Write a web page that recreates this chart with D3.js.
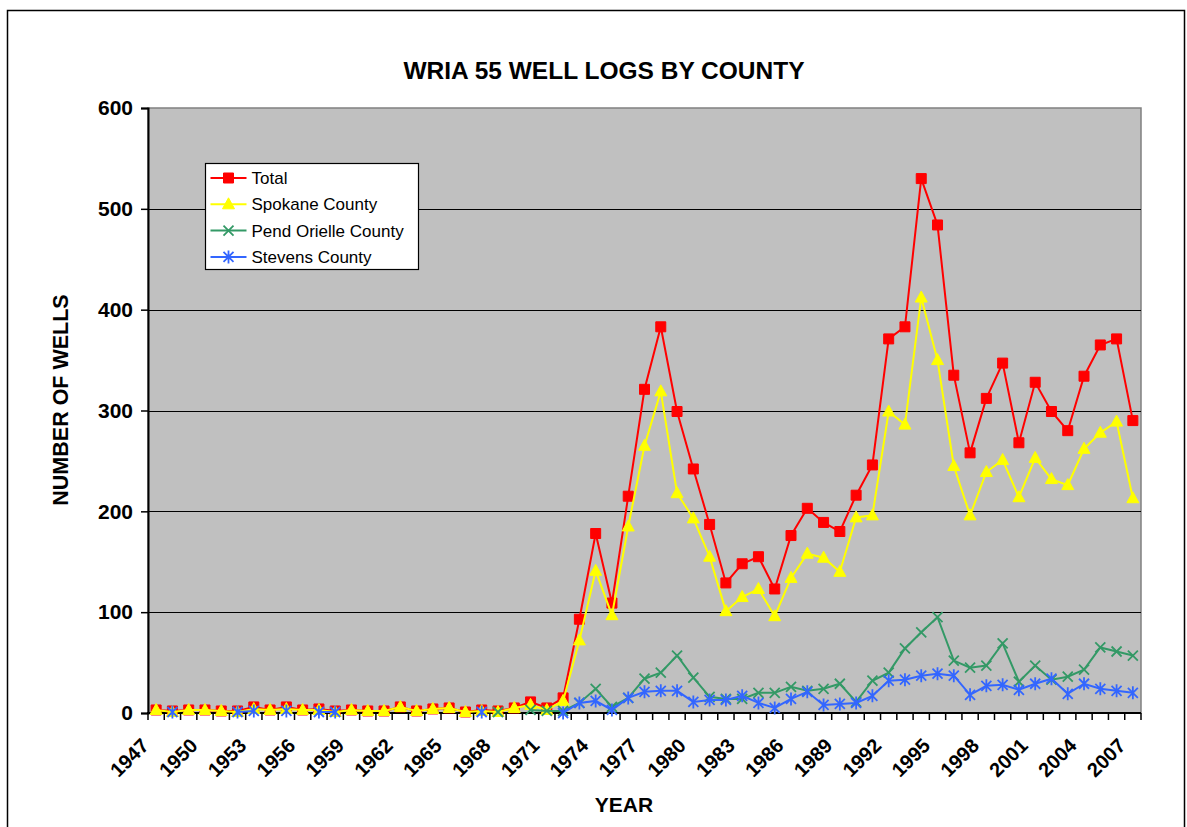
<!DOCTYPE html>
<html>
<head>
<meta charset="utf-8">
<script src="https://cdn.jsdelivr.net/npm/d3@7"></script>
<style>
  body { margin: 0; background: #fff; }
  svg { display: block; font-family: "Liberation Sans", Arial, sans-serif; }
</style>
</head>
<body>
<div class="center"></div>
<script>
// data
const years = [1947,1948,1949,1950,1951,1952,1953,1954,1955,1956,1957,1958,1959,1960,1961,1962,1963,1964,1965,1966,
  1967,1968,1969,1970,1971,1972,1973,1974,1975,1976,1977,1978,1979,1980,1981,1982,1983,1984,1985,1986,
  1987,1988,1989,1990,1991,1992,1993,1994,1995,1996,1997,1998,1999,2000,2001,2002,2003,2004,2005,2006,2007];

const tickYears = [1947,1950,1953,1956,1959,1962,1965,1968,1971,1974,1977,1980,1983,1986,1989,1992,1995,1998,2001,2004,2007];
const yTicks = [0,100,200,300,400,500,600];

const total = [3,2,3,3,2,2,6,3,6,3,4,2,3,2,2,6,2,4,5,1,
  3,2,5,11,5,15,93,178,109,215,321,383,299,242,187,129,148,155,123,176,
  203,189,180,216,246,371,383,530,484,335,258,312,347,268,328,299,280,334,365,371,290];

const spokane = [3,1,3,3,2,1,4,3,4,3,3,1,3,2,2,6,2,4,5,1,
  2,1,5,8,3,12,72,141,97,185,265,319,218,193,155,101,115,123,96,134,
  158,154,140,194,196,299,286,412,350,245,196,239,251,214,253,232,226,262,278,289,213];

const pendOrielle = [null,null,null,null,null,null,null,null,null,null,null,null,null,null,null,null,null,null,null,null,
  null,1,null,3,2,2,10,24,6,15,34,40,57,35,16,14,14,20,20,26,
  22,24,29,11,32,40,64,80,95,52,45,47,69,31,47,33,36,43,65,61,57];

const stevens = [null,1,null,null,null,1,2,null,2,null,1,1,null,null,null,null,null,null,null,null,
  1,null,null,null,null,0,10,12,3,15,21,22,22,11,13,13,17,10,5,14,
  21,8,9,10,17,32,33,37,39,37,18,27,28,23,29,34,19,29,24,22,20];

const seriesNames = ["Total","Spokane County","Pend Orielle County","Stevens County"];
const seriesValues = [total, spokane, pendOrielle, stevens];
const seriesColors = ["#FF0000","#FFFF00","#339966","#3366FF"];
const seriesMarkers = ["square","triangle","x","star"];

// layout
const W = 1187, H = 827;
const plot = {left: 148, right: 1141, top: 108, bottom: 713};

const svg = d3.select(".center").append("svg")
  .attr("width", W)
  .attr("height", H);

// outer chart border
svg.append("rect")
  .attr("x", 7.5).attr("y", 10.5)
  .attr("width", 1177).attr("height", 900)
  .attr("fill", "#fff")
  .attr("stroke", "#000")
  .attr("stroke-width", 1.5);

const xScale = d3.scaleBand()
  .domain(years)
  .range([plot.left, plot.right])
  .padding(0);
const yScale = d3.scaleLinear()
  .domain([0, 600])
  .range([plot.bottom, plot.top]);
const xc = d => xScale(d) + xScale.bandwidth() / 2;

// plot area
svg.append("rect")
  .attr("x", plot.left).attr("y", plot.top)
  .attr("width", plot.right - plot.left)
  .attr("height", plot.bottom - plot.top)
  .attr("fill", "#C0C0C0")
  .attr("stroke", "#808080")
  .attr("stroke-width", 1.5);

// gridlines
svg.append("g")
  .selectAll("line")
  .data(yTicks.filter(t => t > 0 && t < 600))
  .enter().append("line")
  .attr("x1", plot.left).attr("x2", plot.right)
  .attr("y1", d => Math.round(yScale(d)) + 0.5)
  .attr("y2", d => Math.round(yScale(d)) + 0.5)
  .attr("stroke", "#000")
  .attr("stroke-width", 1);

// y axis
const yAxis = d3.axisLeft(yScale).tickValues(yTicks).tickSize(7).tickPadding(8);
const gy = svg.append("g")
  .attr("transform", `translate(${plot.left},0)`)
  .call(yAxis);
gy.select(".domain").attr("stroke", "#000").attr("stroke-width", 2);
gy.selectAll(".tick line").attr("stroke", "#000").attr("stroke-width", 1.5);
gy.selectAll(".tick text")
  .style("font-size", "21px")
  .style("font-weight", "700")
  .style("font-family", "'Liberation Sans', Arial, sans-serif")
  .attr("fill", "#000");

// x axis: ticks on category boundaries
const gx = svg.append("g");
gx.selectAll("line.tk")
  .data(years.concat(["end"]))
  .enter().append("line")
  .attr("class", "tk")
  .attr("x1", d => d === "end" ? plot.right : xScale(d))
  .attr("x2", d => d === "end" ? plot.right : xScale(d))
  .attr("y1", plot.bottom)
  .attr("y2", plot.bottom + 7)
  .attr("stroke", "#000")
  .attr("stroke-width", 1.5);
gx.append("line")
  .attr("x1", plot.left - 1).attr("x2", plot.right)
  .attr("y1", plot.bottom).attr("y2", plot.bottom)
  .attr("stroke", "#000")
  .attr("stroke-width", 2);
gx.selectAll("text")
  .data(tickYears)
  .enter().append("text")
  .attr("transform", d => `translate(${xc(d) - 16},${plot.bottom + 24}) rotate(-45)`)
  .attr("text-anchor", "end")
  .attr("dy", "0.7em")
  .style("font-size", "20px")
  .style("font-weight", "700")
  .text(d => d);

// series
const lineGen = d3.line()
  .defined(d => d.v != null)
  .x(d => xc(d.year))
  .y(d => yScale(d.v));

function markerPath(type) {
  if (type === "square") return "M-5,-5H5V5H-5Z";
  if (type === "triangle") return "M0,-6.5L6,4.5L-6,4.5Z";
  if (type === "x") return "M-5,-5L5,5M-5,5L5,-5";
  return "M-5,-5L5,5M-5,5L5,-5M0,-6.5V6.5";
}

seriesValues.forEach((vals, i) => {
  const pts = years.map((y, j) => ({year: y, v: vals[j]}));
  const g = svg.append("g");
  g.append("path")
    .datum(pts)
    .attr("fill", "none")
    .attr("stroke", seriesColors[i])
    .attr("stroke-width", 2)
    .attr("d", lineGen);
  const filled = seriesMarkers[i] === "square" || seriesMarkers[i] === "triangle";
  g.selectAll("path.mk")
    .data(pts.filter(d => d.v != null))
    .enter().append("path")
    .attr("class", "mk")
    .attr("transform", d => `translate(${xc(d.year)},${yScale(d.v)})`)
    .attr("d", markerPath(seriesMarkers[i]))
    .attr("fill", filled ? seriesColors[i] : "none")
    .attr("stroke", seriesColors[i])
    .attr("stroke-width", filled ? 1 : 1.8);
});

// legend
const legend = svg.append("g").attr("transform", "translate(205.5,163.5)");
legend.append("rect")
  .attr("width", 213).attr("height", 106)
  .attr("fill", "#fff")
  .attr("stroke", "#000")
  .attr("stroke-width", 1.2);
seriesNames.forEach((name, i) => {
  const yy = 14.5 + i * 26.3;
  legend.append("line")
    .attr("x1", 5).attr("x2", 41)
    .attr("y1", yy).attr("y2", yy)
    .attr("stroke", seriesColors[i])
    .attr("stroke-width", 2);
  const filled = seriesMarkers[i] === "square" || seriesMarkers[i] === "triangle";
  legend.append("path")
    .attr("transform", `translate(23,${yy})`)
    .attr("d", markerPath(seriesMarkers[i]))
    .attr("fill", filled ? seriesColors[i] : "none")
    .attr("stroke", seriesColors[i])
    .attr("stroke-width", filled ? 1 : 1.8);
  legend.append("text")
    .attr("x", 46)
    .attr("y", yy)
    .attr("dy", "0.35em")
    .style("font-size", "17px")
    .text(name);
});

// title
svg.append("text")
  .attr("x", 604)
  .attr("y", 79)
  .attr("text-anchor", "middle")
  .style("font-size", "24.5px")
  .style("font-weight", "700")
  .text("WRIA 55 WELL LOGS BY COUNTY");

// axis titles
svg.append("text")
  .attr("x", 624)
  .attr("y", 812)
  .attr("text-anchor", "middle")
  .style("font-size", "21px")
  .style("font-weight", "700")
  .text("YEAR");

svg.append("text")
  .attr("transform", "translate(68,400) rotate(-90)")
  .attr("text-anchor", "middle")
  .style("font-size", "21.5px")
  .style("font-weight", "700")
  .text("NUMBER OF WELLS");
</script>
</body>
</html>
